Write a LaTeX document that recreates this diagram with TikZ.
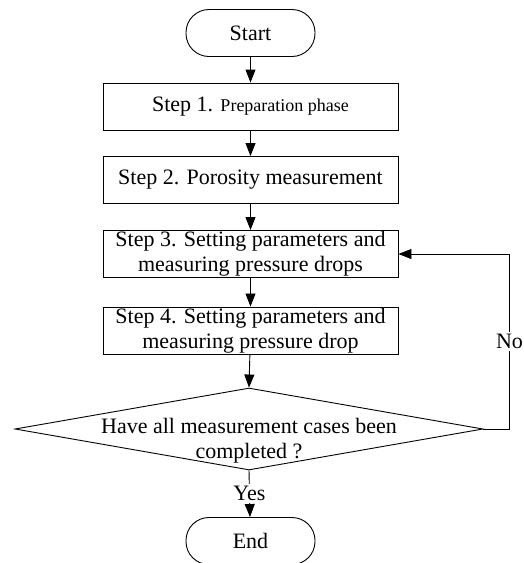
\documentclass[tikz,border=0pt]{standalone}
\usepackage{fontspec}
\setmainfont{Liberation Serif}
\usetikzlibrary{shapes.geometric,arrows.meta,positioning}

\begin{document}
\begin{tikzpicture}[x=0.5pt, y=-0.5pt, line width=0.45pt,
    every node/.style={font=\fontsize{11}{12.5}\selectfont},
    terminal/.style={draw, rectangle, rounded corners=11.5pt, minimum width=64.5pt, minimum height=23.5pt, inner sep=0pt},
    stepbox/.style={draw, rectangle, align=center, minimum width=147.5pt, minimum height=23.5pt, inner sep=0.5pt},
    decision/.style={draw, diamond, minimum width=234pt, minimum height=41pt, inner sep=0pt},
    arrow/.style={-{Triangle[width=5pt, length=6.5pt]}}]
  \useasboundingbox (0,0) rectangle (524,563);
  \node[terminal] (start) at (250.5,33) {Start};
  \node[stepbox] (s1) at (250.5,106.5) {Step 1. {\fontsize{9}{11}\selectfont Preparation phase}};
  \node[stepbox] (s2) at (250.5,180) {Step 2. Porosity measurement};
  \node[stepbox] (s3) at (250.5,254) {Step 3. Setting parameters and\\ measuring pressure drops};
  \node[stepbox] (s4) at (250.5,330.5) {Step 4. Setting parameters and\\ measuring pressure drop};
  \node[decision] (dec) at (249,429) {};
  \node[align=center, yshift=-6pt] (q) at (dec.center) {Have all measurement cases been\\ completed ?};
  \node[terminal] (end) at (250.5,541) {End};
  \draw[arrow] (start) -- (s1);
  \draw[arrow] (s1) -- (s2);
  \draw[arrow] (s2) -- (s3);
  \draw[arrow] (s3) -- (s4);
  \draw[arrow] (s4) -- (dec.north);
  \draw[arrow] (dec.south) -- node[fill=white, inner sep=1pt] {Yes} (end);
  \draw[arrow] (dec.east) -- ++(26,0) |- node[pos=0.25, fill=white, inner sep=1pt] {No} (s3.east);
\end{tikzpicture}
\end{document}
